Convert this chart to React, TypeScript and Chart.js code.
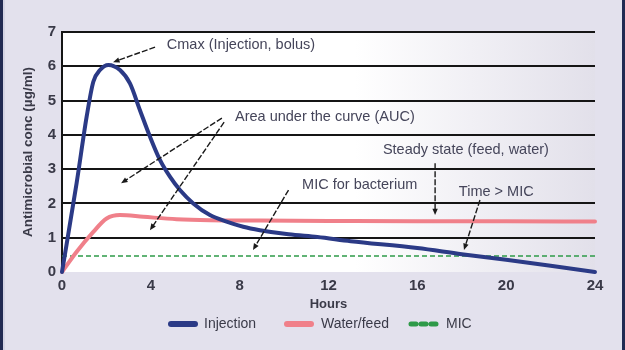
import React, { useEffect, useRef } from "react";
import { Chart, registerables } from "chart.js";

Chart.register(...registerables);

// ---- data ----
const injectionHours = [0, 0.66, 1.11, 1.41, 1.71, 2.09, 2.61, 3.06, 3.51, 3.96, 4.41, 4.86, 5.31, 5.91, 6.66, 7.41, 8.16, 8.91, 10.2, 11.5, 13, 16, 18, 20, 22, 24];
const injectionValues = [0, 2.6, 4.53, 5.55, 5.89, 6.04, 5.89, 5.5, 4.72, 3.95, 3.27, 2.78, 2.39, 2.0, 1.66, 1.47, 1.32, 1.22, 1.1, 1.02, 0.9, 0.7, 0.52, 0.36, 0.18, 0];
const waterHours = [0, 0.66, 1.41, 2.01, 2.61, 3.66, 5.16, 6.66, 8.91, 12, 16, 20, 24];
const waterValues = [0, 0.59, 1.17, 1.56, 1.66, 1.61, 1.54, 1.51, 1.5, 1.49, 1.48, 1.48, 1.47];
const micHours = [0, 24];
const micValues = [0.47, 0.47];
const xTicks = [0, 4, 8, 12, 16, 20, 24];
const yTicks = [0, 1, 2, 3, 4, 5, 6, 7];
const seriesNames = ["Injection", "Water/feed", "MIC"];
const seriesColors = ["#2b3a86", "#f0808a", "#2e9a48"];

// annotations: text anchor (hours, value) and arrows (from -> to, in hours/value)
const annotationTexts = [
  { text: "Cmax (Injection, bolus)", x: 4.72, y: 6.62 },
  { text: "Area under the curve (AUC)", x: 7.79, y: 4.52 },
  { text: "Steady state (feed, water)", x: 14.45, y: 3.56 },
  { text: "MIC for bacterium", x: 10.81, y: 2.54 },
  { text: "Time > MIC", x: 17.87, y: 2.33 },
];
const annotationArrows = [
  { x1: 4.19, y1: 6.56, x2: 2.3, y2: 6.12 },
  { x1: 7.2, y1: 4.49, x2: 2.66, y2: 2.59 },
  { x1: 7.3, y1: 4.37, x2: 3.96, y2: 1.22 },
  { x1: 16.8, y1: 3.17, x2: 16.8, y2: 1.66 },
  { x1: 10.2, y1: 2.39, x2: 8.6, y2: 0.64 },
  { x1: 18.82, y1: 2.1, x2: 18.1, y2: 0.64 },
];

const FONT = "'Liberation Sans', Arial, sans-serif";
const TEXT = "#3a3a48";

const pts = (xs: number[], ys: number[]) => xs.map((x, i) => ({ x, y: ys[i] }));

const decorPlugin = {
  id: "decor",
  beforeDraw(chart: any) {
    const { ctx, width, height, chartArea } = chart;
    ctx.save();
    ctx.fillStyle = "#e3e1ed";
    ctx.fillRect(0, 0, width, height);
    ctx.fillStyle = "#222a52";
    ctx.fillRect(0, 0, 3, height);
    ctx.fillRect(width - 3, 0, 3, height);
    ctx.fillStyle = "#d4d3e3";
    ctx.fillRect(3, 0, 2, height);
    const g = ctx.createLinearGradient(chartArea.left, 0, chartArea.right, 0);
    g.addColorStop(0, "#ffffff");
    g.addColorStop(0.55, "#ffffff");
    g.addColorStop(1, "#e2e0ea");
    ctx.fillStyle = g;
    ctx.fillRect(chartArea.left, chartArea.top, chartArea.right - chartArea.left, chartArea.bottom - chartArea.top);
    ctx.restore();
  },
  afterDraw(chart: any) {
    const { ctx } = chart;
    const xs = chart.scales.x;
    const ys = chart.scales.y;
    ctx.save();
    // annotation text
    ctx.font = `14.5px ${FONT}`;
    ctx.fillStyle = "#45455a";
    ctx.textBaseline = "middle";
    ctx.textAlign = "left";
    annotationTexts.forEach((a) => {
      ctx.fillText(a.text, xs.getPixelForValue(a.x), ys.getPixelForValue(a.y));
    });
    // arrows
    ctx.strokeStyle = "#1a1a1a";
    ctx.fillStyle = "#1a1a1a";
    ctx.lineWidth = 1.4;
    annotationArrows.forEach((a) => {
      const x1 = xs.getPixelForValue(a.x1), y1 = ys.getPixelForValue(a.y1);
      const x2 = xs.getPixelForValue(a.x2), y2 = ys.getPixelForValue(a.y2);
      const ang = Math.atan2(y2 - y1, x2 - x1);
      const hl = 7;
      ctx.setLineDash([6, 2]);
      ctx.beginPath();
      ctx.moveTo(x1, y1);
      ctx.lineTo(x2 - Math.cos(ang) * hl * 0.8, y2 - Math.sin(ang) * hl * 0.8);
      ctx.stroke();
      ctx.setLineDash([]);
      ctx.beginPath();
      ctx.moveTo(x2, y2);
      ctx.lineTo(x2 - hl * Math.cos(ang - 0.4), y2 - hl * Math.sin(ang - 0.4));
      ctx.lineTo(x2 - hl * Math.cos(ang + 0.4), y2 - hl * Math.sin(ang + 0.4));
      ctx.closePath();
      ctx.fill();
    });
    // legend
    const ly = 324;
    const items = [
      { x0: 168, x1: 198, tx: 204 },
      { x0: 284, x1: 314, tx: 321 },
      { x0: 409, x1: 437, tx: 446 },
    ];
    ctx.font = `14px ${FONT}`;
    ctx.textBaseline = "middle";
    items.forEach((it, i) => {
      ctx.strokeStyle = seriesColors[i];
      ctx.lineCap = "round";
      if (i === 2) {
        ctx.lineWidth = 5;
        ctx.setLineDash([5, 5]);
        ctx.beginPath();
        ctx.moveTo(it.x0 + 2, ly);
        ctx.lineTo(it.x1, ly);
        ctx.stroke();
        ctx.setLineDash([]);
      } else {
        ctx.lineWidth = 6;
        ctx.beginPath();
        ctx.moveTo(it.x0 + 3, ly);
        ctx.lineTo(it.x1 - 3, ly);
        ctx.stroke();
      }
      ctx.fillStyle = TEXT;
      ctx.fillText(seriesNames[i], it.tx, ly);
    });
    ctx.restore();
  },
};

export default function App() {
  const ref = useRef<HTMLCanvasElement | null>(null);
  useEffect(() => {
    if (!ref.current) return;
    Chart.defaults.font.family = FONT;
    const chart = new Chart(ref.current, {
      type: "line",
      data: {
        datasets: [
          {
            label: seriesNames[0],
            data: pts(injectionHours, injectionValues),
            borderColor: seriesColors[0],
            borderWidth: 4,
            pointRadius: 0,
            cubicInterpolationMode: "monotone",
            borderCapStyle: "round",
            borderJoinStyle: "round",
            clip: false,
            order: 0,
          },
          {
            label: seriesNames[1],
            data: pts(waterHours, waterValues),
            borderColor: seriesColors[1],
            borderWidth: 4,
            pointRadius: 0,
            cubicInterpolationMode: "monotone",
            borderCapStyle: "round",
            clip: false,
            order: 1,
          },
          {
            label: seriesNames[2],
            data: pts(micHours, micValues),
            borderColor: seriesColors[2],
            borderWidth: 1.5,
            borderDash: [5, 3],
            pointRadius: 0,
            clip: false,
            order: 2,
          },
        ],
      } as any,
      options: {
        animation: false,
        responsive: false,
        layout: { padding: { top: 32, left: 0, right: 30, bottom: 38 } },
        plugins: { legend: { display: false }, tooltip: { enabled: false } },
        scales: {
          x: {
            type: "linear",
            min: 0,
            max: 24,
            afterBuildTicks: (s: any) => {
              s.ticks = xTicks.map((v) => ({ value: v }));
            },
            ticks: { font: { size: 15, weight: "bold" }, color: TEXT, padding: 5, maxRotation: 0 },
            grid: { display: false, drawTicks: false },
            border: { display: false },
            title: {
              display: true,
              text: "Hours",
              font: { size: 13, weight: "bold" },
              color: TEXT,
              padding: { top: 0, bottom: 0 },
            },
            afterFit: (s: any) => {
              s.height = 40;
            },
          },
          y: {
            min: 0,
            max: 7,
            afterBuildTicks: (s: any) => {
              s.ticks = yTicks.map((v) => ({ value: v }));
            },
            ticks: { font: { size: 15, weight: "bold" }, color: TEXT, padding: 6 },
            grid: {
              color: (c: any) => (c.tick && c.tick.value === 0 ? "rgba(0,0,0,0)" : "#151515"),
              lineWidth: 2,
              drawTicks: false,
            },
            border: { display: true, color: "#151515", width: 2 },
            title: {
              display: true,
              text: "Antimicrobial conc (µg/ml)",
              font: { size: 13.5, weight: "bold" },
              color: TEXT,
              padding: { top: 20, bottom: 0 },
            },
            afterFit: (s: any) => {
              s.width = 62;
            },
          },
        },
      } as any,
      plugins: [decorPlugin],
    });
    return () => chart.destroy();
  }, []);
  return (
    <div style={{ position: "absolute", left: 0, top: 0, width: 625, height: 350 }}>
      <canvas ref={ref} width={625} height={350} style={{ display: "block" }} />
    </div>
  );
}
